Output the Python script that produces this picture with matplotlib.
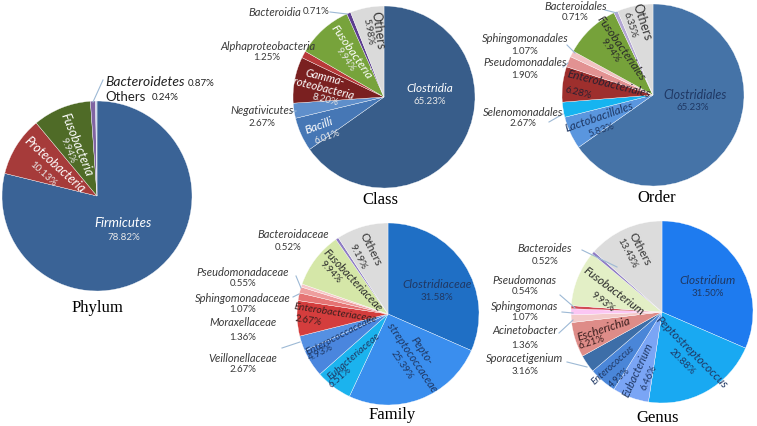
import matplotlib.pyplot as plt

plt.rcParams['font.family'] = ['Lato', 'DejaVu Sans']

# ---- data (percent of reads) ----
phylum_names = ['Firmicutes', 'Proteobacteria', 'Fusobacteria', 'Bacteroidetes', 'Others']
phylum_pct = [78.82, 10.13, 9.94, 0.87, 0.24]

class_names = ['Clostridia', 'Bacilli', 'Negativicutes', 'Gamma-\nproteobacteria',
               'Alphaproteobacteria', 'Fusobacteria', 'Bacteroidia', 'Others']
class_pct = [65.23, 6.01, 2.67, 8.20, 1.25, 9.94, 0.71, 5.98]

order_names = ['Clostridiales', 'Lactobacillales', 'Selenomonadales', 'Enterobacteriales',
               'Pseudomonadales', 'Sphingomonadales', 'Fusobacteriales', 'Bacteroidales', 'Others']
order_pct = [65.23, 5.83, 2.67, 6.28, 1.90, 1.07, 9.94, 0.71, 6.35]

family_names = ['Clostridiaceae', 'Pepto-\nstreptococcaceae', 'Eubacteriaceae', 'Enterococcaceae',
                'Veillonellaceae', 'Enterobacteriaceae', 'Moraxellaceae', 'Sphingomonadaceae',
                'Pseudomonadaceae', 'Fusobacteriaceae', 'Bacteroidaceae', 'Others']
# wedge sizes as drawn; the Enterobacteriaceae wedge is drawn larger than its printed label
family_pct = [31.58, 25.39, 6.51, 4.93, 2.67, 6.28, 1.36, 1.07, 0.55, 9.94, 0.52, 9.19]
family_lbl = ['31.58%', '25.39%', '6.51%', '4.93%', '2.67%', '2.67%', '1.36%', '1.07%',
              '0.55%', '9.94%', '0.52%', '9.19%']

genus_names = ['Clostridium', 'Peptostreptococcus', 'Eubacterium', 'Enterococcus', 'Sporacetigenium',
               'Escherichia', 'Acinetobacter', 'Sphingomonas', 'Pseudomonas', 'Fusobacterium',
               'Bacteroides', 'Others']
genus_pct = [31.50, 20.88, 6.46, 4.93, 3.16, 6.21, 1.36, 1.07, 0.54, 9.93, 0.52, 13.43]

# ---- colours ----
phylum_col = ['#3A6396', '#A63B3A', '#4F6B27', '#8064A2', '#C5D5EA']
class_col = ['#385D8A', '#4677B5', '#5F8FCB', '#7A2020', '#B83A3A', '#77A33B', '#5C3D8F', '#DADADA']
order_col = ['#4573A7', '#5A96DE', '#16B4F0', '#9E2F2D', '#E29292', '#F2C3C3', '#76A23A', '#B3A6D3', '#DBDBDB']
family_col = ['#1F6FC5', '#3A8EEE', '#1BB3EE', '#4A86DE', '#5590E2', '#D43D3D', '#E57373', '#EE9E9E',
              '#F7C8C8', '#D5E7A8', '#8E7CC3', '#DCDCDC']
genus_col = ['#1E7BEF', '#19A9F2', '#7AA5F5', '#4A86D8', '#3D6EA8', '#DE8C88', '#F3CACA', '#FBC6F3',
             '#D24A55', '#E3EFC6', '#8E7CC3', '#DCDCDC']

W, H = 757, 426
fig = plt.figure(figsize=(W / 100, H / 100), dpi=100)
ax = fig.add_axes([0, 0, 1, 1])

NAVY = '#1F3864'
GREY = '#3A3A3A'
LINE = '#9DB9D5'


def pie(vals, cols, cx, cy, r):
    # y axis is inverted below, so startangle -90 / counterclock=True gives
    # clockwise slices starting at 12 o'clock on screen
    ax.pie(vals, colors=cols, center=(cx, cy), radius=r, startangle=-90,
           counterclock=True, normalize=True,
           wedgeprops=dict(edgecolor='white', linewidth=0.25))


def name(s, x, y, rot=0, color=GREY, size=8, italic=True, ha='center'):
    ax.text(x, y, s, ha=ha, va='center', rotation=rot, rotation_mode='anchor',
            fontsize=size, color=color, style='italic' if italic else 'normal',
            linespacing=1.0)


def pct(s, x, y, rot=0, color=GREY, size=7, ha='center'):
    if not isinstance(s, str):
        s = f'{s:.2f}%'
    ax.text(x, y, s, ha=ha, va='center', rotation=rot, rotation_mode='anchor',
            fontsize=size, color=color)


def lead(x1, y1, x2, y2):
    ax.plot([x1, x2], [y1, y2], color=LINE, lw=0.8)


def title(s, x, y):
    ax.text(x, y, s, ha='center', va='center', fontsize=12, family='Liberation Serif')


# ---- Phylum ----
pie(phylum_pct, phylum_col, 97, 196, 95)
name(phylum_names[0], 123, 223, color='white', size=9.5)
pct(phylum_pct[0], 124, 237, color='#E8E8E8')
name(phylum_names[1], 55, 165, rot=-42, color='white', size=9)
pct(phylum_pct[1], 43, 174, rot=-42, color='#E8E8E8')
name(phylum_names[2], 77, 145, rot=-68, color='white', size=9)
pct(phylum_pct[2], 68, 151, rot=-68, color='#E8E8E8')
name(phylum_names[3], 105, 82, color='#222222', size=10, ha='left')
pct(phylum_pct[3], 188, 83, color='#222222', ha='left')
name(phylum_names[4], 105, 97, color='#222222', size=9.5, italic=False, ha='left')
pct(phylum_pct[4], 152, 98, color='#222222', ha='left')
lead(103, 80, 93, 102)
title('Phylum', 97, 308)

# ---- Class ----
pie(class_pct, class_col, 384, 97, 91)
name(class_names[0], 430, 88, color='white', size=8.5)
pct(class_pct[0], 430, 101, color='#E8E8E8')
name(class_names[1], 319, 126, rot=20, color='white', size=8.5)
pct(class_pct[1], 327, 137, rot=20, color='#E8E8E8')
name(class_names[3], 323, 83, rot=-14, color='white', size=8)
pct(class_pct[3], 325, 100, rot=-14, color='#E8E8E8')
name(class_names[5], 351, 52, rot=-55, color='white', size=8.5)
pct(class_pct[5], 345, 60, rot=-55, color='#E8E8E8')
name(class_names[7], 378, 30, rot=-82, color='#333333', size=9, italic=False)
pct(class_pct[7], 368, 32, rot=-80, color='#333333')
name(class_names[6], 301, 12, ha='right')
pct(class_pct[6], 303, 12, ha='left')
lead(330, 12, 347, 14)
name(class_names[4], 268, 47)
pct(class_pct[4], 267, 58)
name(class_names[2], 262, 110)
pct(class_pct[2], 262, 123)
lead(291, 112, 296, 111)
title('Class', 380, 200)

# ---- Order ----
pie(order_pct, order_col, 653, 95, 91)
name(order_names[0], 695, 95, color=NAVY, size=9)
pct(order_pct[0], 693, 108, color=NAVY)
name(order_names[1], 599, 117, rot=19, color=NAVY, size=8.5)
pct(order_pct[1], 601, 130, rot=19, color=NAVY)
name(order_names[3], 609, 84, rot=-14, color='#2A2030', size=8.5)
pct(order_pct[3], 578, 93, rot=-14, color='#2A2030')
name(order_names[6], 621, 48, rot=-55, color='#2A2A2A', size=8.5)
pct(order_pct[6], 610, 51, rot=-55, color='#2A2A2A')
name(order_names[8], 642, 22, rot=-72, color='#333333', size=9, italic=False)
pct(order_pct[8], 630, 25, rot=-72, color='#333333')
name(order_names[7], 576, 6)
pct(order_pct[7], 575, 18)
lead(605, 10, 617, 13)
name(order_names[5], 525, 39)
pct(order_pct[5], 525, 52)
lead(567, 45, 575, 53)
name(order_names[4], 525, 63)
pct(order_pct[4], 525, 75)
lead(563, 67, 568, 63)
name(order_names[2], 523, 112)
pct(order_pct[2], 523, 124)
lead(549, 122, 563, 114)
title('Order', 657, 198)

# ---- Family ----
pie(family_pct, family_col, 388, 314, 91)
name(family_names[0], 437, 285, color=NAVY, size=8.5)
pct(family_lbl[0], 437, 298, color=NAVY)
name(family_names[1], 417, 354, rot=-56, color=NAVY, size=8)
pct(family_lbl[1], 402, 365, rot=-56, color=NAVY)
name(family_names[2], 354, 356, rot=41, color=NAVY, size=7.5)
pct(family_lbl[2], 340, 377, rot=41, color=NAVY)
name(family_names[3], 339, 336, rot=27, color=NAVY, size=7.5)
pct(family_lbl[3], 321, 353, rot=27, color=NAVY)
name(family_names[5], 335, 313, rot=-9, color='#3A1E1E', size=7.5)
pct(family_lbl[5], 308, 321, rot=-9, color='#3A1E1E')
name(family_names[9], 353, 280, rot=-47, color='#2A2A2A', size=8)
pct(family_lbl[9], 330, 272, rot=-47, color='#2A2A2A')
name(family_names[11], 371, 249, rot=-63, color='#333333', size=8.5, italic=False)
pct(family_lbl[11], 358, 257, rot=-63, color='#333333')
name(family_names[10], 293, 235)
pct(family_lbl[10], 288, 247)
name(family_names[8], 243, 272)
pct(family_lbl[8], 243, 284)
lead(296, 276, 301, 288)
name(family_names[7], 243, 298)
pct(family_lbl[7], 243, 310)
lead(293, 297, 299, 294)
name(family_names[6], 243, 323)
pct(family_lbl[6], 243, 337)
name(family_names[4], 243, 358)
pct(family_lbl[4], 243, 370)
lead(282, 348, 300, 342)
title('Family', 392, 415)

# ---- Genus ----
pie(genus_pct, genus_col, 662, 312, 91)
name(genus_names[0], 708, 280, color=NAVY, size=8.5)
pct(genus_pct[0], 708, 293, color=NAVY)
name(genus_names[1], 692, 352, rot=-45, color=NAVY, size=8.5)
pct(genus_pct[1], 682, 362, rot=-45, color=NAVY)
name(genus_names[2], 638, 370, rot=65, color=NAVY, size=8)
pct(genus_pct[2], 649, 378, rot=65, color=NAVY)
name(genus_names[3], 613, 365, rot=42, color=NAVY, size=7)
pct(genus_pct[3], 620, 378, rot=42, color=NAVY, size=6.5)
name(genus_names[5], 604, 329, rot=18, color='#3A1E1E', size=8.5)
pct(genus_pct[5], 592, 342, rot=18, color='#3A1E1E')
name(genus_names[9], 614, 291, rot=-37, color='#2A2A2A', size=8.5)
pct(genus_pct[9], 603, 302, rot=-37, color='#2A2A2A')
name(genus_names[11], 640, 249, rot=-62, color='#333333', size=8.5, italic=False)
pct(genus_pct[11], 627, 253, rot=-62, color='#333333')
name(genus_names[10], 545, 248)
pct(genus_pct[10], 545, 261)
lead(582, 250, 617, 267)
name(genus_names[8], 525, 281)
pct(genus_pct[8], 525, 292)
lead(560, 295, 575, 308)
name(genus_names[7], 525, 306)
pct(genus_pct[7], 525, 317)
lead(562, 312, 573, 313)
name(genus_names[6], 525, 331)
pct(genus_pct[6], 525, 345)
lead(559, 333, 573, 320)
name(genus_names[4], 525, 359)
pct(genus_pct[4], 525, 372)
lead(567, 362, 587, 367)
title('Genus', 658, 418)

ax.set_xlim(0, W)
ax.set_ylim(H, 0)
ax.set_aspect('equal')
ax.axis('off')

fig.savefig('out.png', dpi=100, facecolor='white')
